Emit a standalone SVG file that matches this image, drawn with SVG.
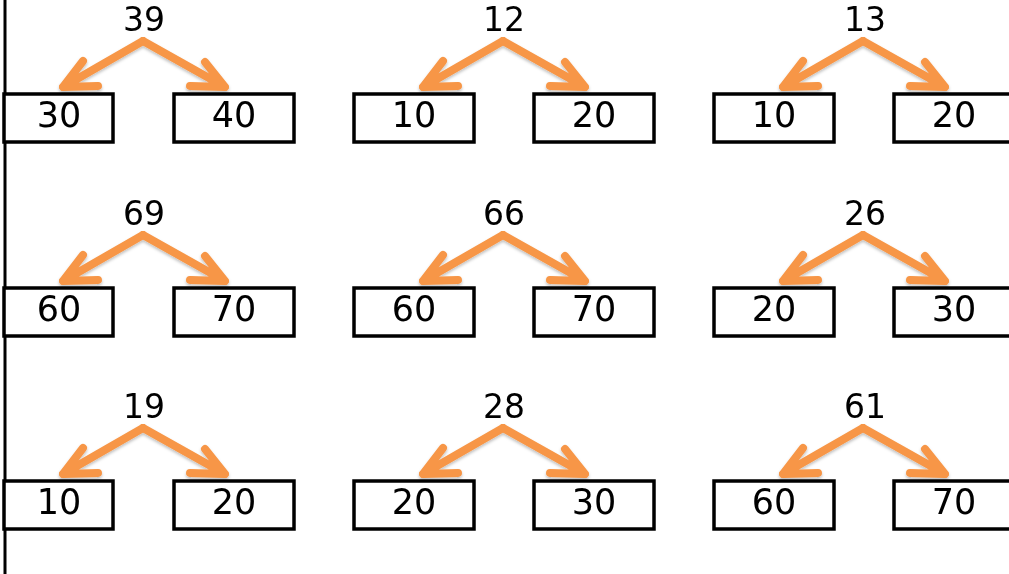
<svg xmlns="http://www.w3.org/2000/svg" width="1009" height="574" viewBox="0 0 1009 574">
<style>
.box{fill:#fff;stroke:#000;stroke-width:3.5}
.num{font-family:"DejaVu Sans",sans-serif;font-size:35px;fill:#000;text-anchor:middle}
.top{font-size:33px}
.arr{fill:none;stroke:#F79646;stroke-width:8;stroke-linecap:round;stroke-linejoin:round}
</style>
<defs>
<filter id="sh" x="-20%" y="-20%" width="140%" height="160%">
<feDropShadow dx="0" dy="2" stdDeviation="1.5" flood-color="#000" flood-opacity="0.25"/>
</filter>
<g id="pair">
<path class="arr" d="M143,41 L63,87 M83,61 L63,87 L98,86"/>
<path class="arr" d="M143,41 L225,87 M205,62 L225,87 L190,86"/>
</g>
</defs>
<rect width="1009" height="574" fill="#fff"/>
<line x1="5" y1="0" x2="5" y2="574" stroke="#000" stroke-width="3"/>
<g id="connectors" filter="url(#sh)">
<use href="#pair"/>
<use href="#pair" x="360"/>
<use href="#pair" x="720"/>
<use href="#pair" y="194"/>
<use href="#pair" x="360" y="194"/>
<use href="#pair" x="720" y="194"/>
<use href="#pair" y="387"/>
<use href="#pair" x="360" y="387"/>
<use href="#pair" x="720" y="387"/>
</g>
<!-- Row 1 -->
<g id="t1"><text class="num top" x="144" y="31">39</text></g>
<g id="t1l"><rect class="box" x="4" y="94" width="109" height="48"/><text class="num" x="59" y="127">30</text></g>
<g id="t1r"><rect class="box" x="174" y="94" width="120" height="48"/><text class="num" x="234" y="127">40</text></g>
<g id="t2"><text class="num top" x="504" y="31">12</text></g>
<g id="t2l"><rect class="box" x="354" y="94" width="120" height="48"/><text class="num" x="414" y="127">10</text></g>
<g id="t2r"><rect class="box" x="534" y="94" width="120" height="48"/><text class="num" x="594" y="127">20</text></g>
<g id="t3"><text class="num top" x="865" y="31">13</text></g>
<g id="t3l"><rect class="box" x="714" y="94" width="120" height="48"/><text class="num" x="774" y="127">10</text></g>
<g id="t3r"><rect class="box" x="894" y="94" width="130" height="48"/><text class="num" x="954" y="127">20</text></g>
<!-- Row 2 -->
<g id="t4"><text class="num top" x="144" y="225">69</text></g>
<g id="t4l"><rect class="box" x="4" y="288" width="109" height="48"/><text class="num" x="59" y="321">60</text></g>
<g id="t4r"><rect class="box" x="174" y="288" width="120" height="48"/><text class="num" x="234" y="321">70</text></g>
<g id="t5"><text class="num top" x="504" y="225">66</text></g>
<g id="t5l"><rect class="box" x="354" y="288" width="120" height="48"/><text class="num" x="414" y="321">60</text></g>
<g id="t5r"><rect class="box" x="534" y="288" width="120" height="48"/><text class="num" x="594" y="321">70</text></g>
<g id="t6"><text class="num top" x="865" y="225">26</text></g>
<g id="t6l"><rect class="box" x="714" y="288" width="120" height="48"/><text class="num" x="774" y="321">20</text></g>
<g id="t6r"><rect class="box" x="894" y="288" width="130" height="48"/><text class="num" x="954" y="321">30</text></g>
<!-- Row 3 -->
<g id="t7"><text class="num top" x="144" y="418">19</text></g>
<g id="t7l"><rect class="box" x="4" y="481" width="109" height="48"/><text class="num" x="59" y="514">10</text></g>
<g id="t7r"><rect class="box" x="174" y="481" width="120" height="48"/><text class="num" x="234" y="514">20</text></g>
<g id="t8"><text class="num top" x="504" y="418">28</text></g>
<g id="t8l"><rect class="box" x="354" y="481" width="120" height="48"/><text class="num" x="414" y="514">20</text></g>
<g id="t8r"><rect class="box" x="534" y="481" width="120" height="48"/><text class="num" x="594" y="514">30</text></g>
<g id="t9"><text class="num top" x="865" y="418">61</text></g>
<g id="t9l"><rect class="box" x="714" y="481" width="120" height="48"/><text class="num" x="774" y="514">60</text></g>
<g id="t9r"><rect class="box" x="894" y="481" width="130" height="48"/><text class="num" x="954" y="514">70</text></g>
</svg>
